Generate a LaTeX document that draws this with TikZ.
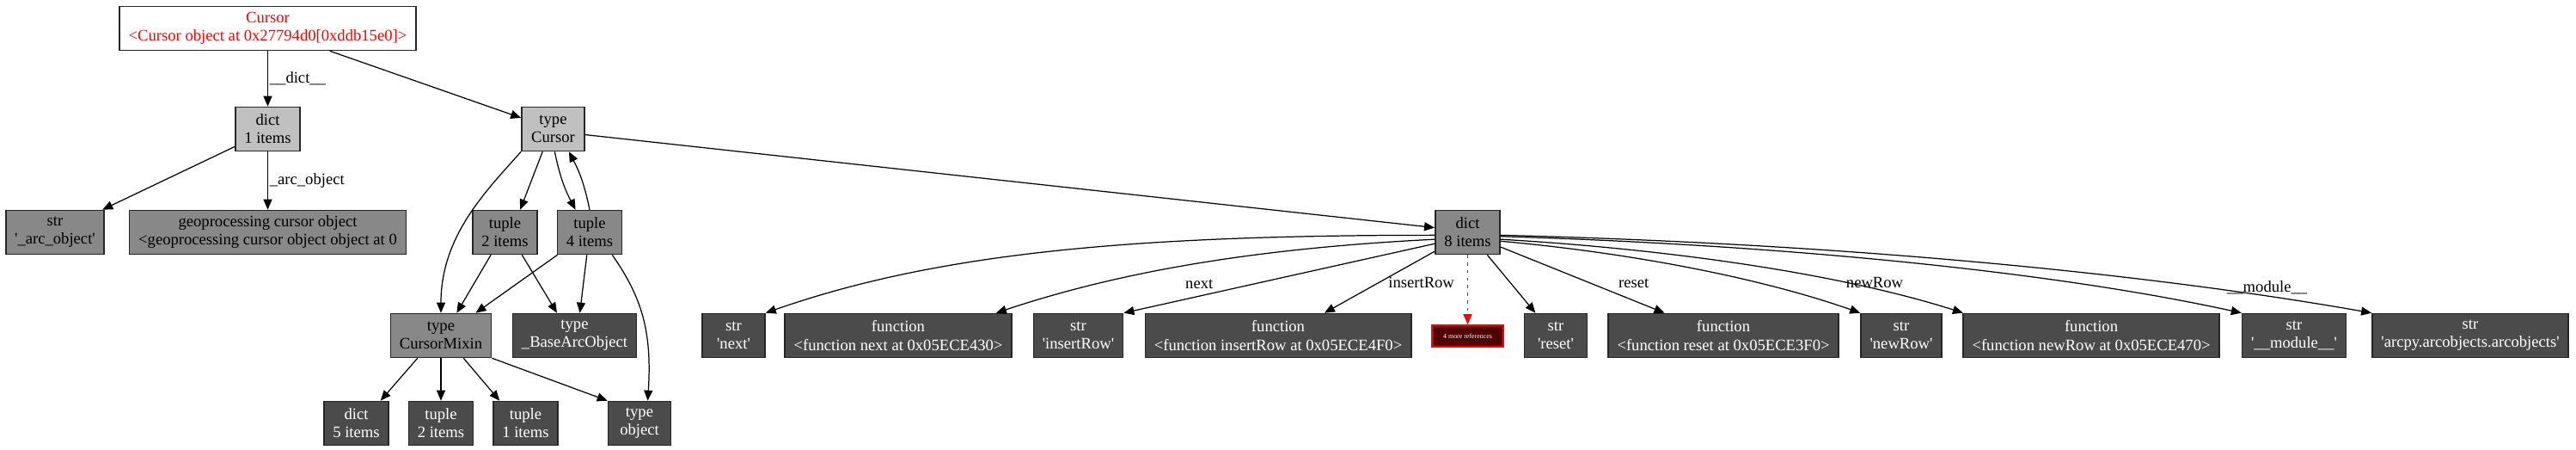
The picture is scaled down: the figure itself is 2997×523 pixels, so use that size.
\documentclass[tikz,border=0pt]{standalone}
\usepackage{fontspec}
\setmainfont{Liberation Serif}
\usetikzlibrary{arrows.meta}
\definecolor{lightbox}{HTML}{C0C0C0}
\definecolor{midbox}{HTML}{888888}
\definecolor{darkbox}{HTML}{4B4B4B}
\definecolor{refbox}{HTML}{500000}
\newcommand{\sq}[1]{\textquotesingle#1\textquotesingle}
\tikzset{
  obj/.style={draw=black!85, line width=0.9pt, rectangle, minimum width=1.46cm, minimum height=1.02cm, inner xsep=0.21cm, inner ysep=0pt, align=center, font=\fontsize{10.6}{12}\selectfont},
  light/.style={obj, fill=lightbox},
  mid/.style={obj, fill=midbox},
  dark/.style={obj, fill=darkbox, text=white},
  ref/.style={draw=red, line width=0.9pt, fill=refbox, text=white, minimum width=1.66cm, minimum height=0.5cm, inner sep=0pt, font=\fontsize{4.5}{5}\selectfont},
  arr/.style={-{Triangle[length=0.24cm, width=0.2cm]}, line width=0.7pt},
  elabel/.style={font=\fontsize{10.6}{12}\selectfont, inner sep=1pt},
}
\begin{document}
\begin{tikzpicture}[x=0.02cm, y=-0.02cm]
\useasboundingbox (0,0) rectangle (2997,523);
\node[obj, text=red] (cursor) at (311.5,33) {Cursor\\<Cursor object at 0x27794d0[0xddb15e0]>};
\node[light] (dictA) at (311.5,150) {dict\\1 items};
\node[light] (tcursor) at (643.5,150) {type\\Cursor};
\node[mid] (sarc) at (64,270) {str\\\sq{\_arc\_object}};
\node[mid] (geo) at (311.5,270) {geoprocessing cursor object\\<geoprocessing cursor object object at 0};
\node[mid] (tupA) at (587.5,270) {tuple\\2 items};
\node[mid] (tupB) at (686,270) {tuple\\4 items};
\node[mid] (dicth) at (1707.5,270) {dict\\8 items};
\node[mid] (mixin) at (513,390) {type\\CursorMixin};
\node[dark] (basearc) at (668.5,390) {type\\\_BaseArcObject};
\node[dark] (dictE) at (414.5,492) {dict\\5 items};
\node[dark] (tupC) at (513,492) {tuple\\2 items};
\node[dark] (tupD) at (611.5,492) {tuple\\1 items};
\node[dark] (tobj) at (744,492) {type\\object};
\node[dark] (snext) at (853.5,390) {str\\\sq{next}};
\node[dark] (fnext) at (1045,390) {function\\<function next at 0x05ECE430>};
\node[dark] (sins) at (1254.5,390) {str\\\sq{insertRow}};
\node[dark] (fins) at (1487,390) {function\\<function insertRow at 0x05ECE4F0>};
\node[ref] (moreref) at (1707.5,390.5) {4 more references};
\node[dark] (sreset) at (1810,390) {str\\\sq{reset}};
\node[dark] (freset) at (2005,390) {function\\<function reset at 0x05ECE3F0>};
\node[dark] (snew) at (2212,390) {str\\\sq{newRow}};
\node[dark] (fnew) at (2433,390) {function\\<function newRow at 0x05ECE470>};
\node[dark] (smod) at (2669,390) {str\\\sq{\_\_module\_\_}};
\node[dark] (sarcpy) at (2874,390) {str\\\sq{arcpy.arcobjects.arcobjects}};
\draw[arr] (cursor) -- node[elabel, right]{\_\_dict\_\_} (dictA);
\draw[arr] (cursor.-20) -- (tcursor);
\draw[arr] (dictA.-152) -- (sarc);
\draw[arr] (dictA) -- node[elabel, right]{\_arc\_object} (geo);
\draw[arr] (tcursor.south west) .. controls +(-40,45) and +(0,-90) .. (mixin.north);
\draw[arr] (tcursor.-115) -- (tupA.56);
\draw[arr] (tcursor.-86) to[bend right=8] (tupB.122);
\draw[arr] (tupB.north) to[bend right=8] (tcursor.-55);
\draw[arr] (tcursor.-10) -- (dicth.172);
\draw[arr] (tupA.-122) -- (mixin.55);
\draw[arr] (tupA.-53) -- (basearc.128);
\draw[arr] (tupB.-145) -- (mixin.33);
\draw[arr] (tupB.-97) -- (basearc.77);
\draw[arr] (tupB.-45) .. controls +(35,50) and +(5,-80) .. (tobj.70);
\draw[arr] (mixin.-136) -- (dictE.43);
\draw[arr] (mixin) -- (tupC);
\draw[arr] (mixin.-45) -- (tupD.139);
\draw[arr] (mixin.south east) -- (tobj.north west);
\draw[arr] (dicth.-175) .. controls +(-350,0) and +(200,-70) .. (snext.north east);
\draw[arr] (dicth.-168) .. controls +(-200,10) and +(150,-50) .. node[elabel, below=0.34cm]{next} (fnext.13);
\draw[arr] (dicth.-161) -- (sins.north east);
\draw[arr] (dicth.-150) -- node[elabel, right=0.16cm]{insertRow} (fins.26);
\draw[arr, red, dash pattern=on 2pt off 3pt] (dicth) -- (moreref);
\draw[arr] (dicth.-49) -- (sreset.132);
\draw[arr] (dicth.-24) -- node[elabel, pos=.55, right=0.6cm]{reset} (freset.159);
\draw[arr] (dicth.-15) .. controls +(155,14) and +(-114,-40) .. (snew.north west);
\draw[arr] (dicth.-12) .. controls +(205,12) and +(-138,-44) .. node[elabel, pos=.7, right]{newRow} (fnew.170);
\draw[arr] (dicth.-7) .. controls +(355,11) and +(-206,-45) .. (smod.north west);
\draw[arr] (dicth.-5) .. controls +(405,10) and +(-256,-45) .. node[elabel, pos=.85, above]{\_\_module\_\_} (sarcpy.north west);
\end{tikzpicture}
\end{document}
